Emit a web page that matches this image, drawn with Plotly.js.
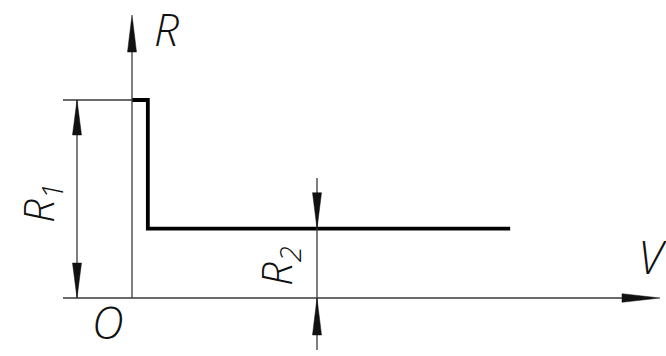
<!DOCTYPE html>
<html>
<head>
<meta charset="utf-8">
<script src="https://cdn.plot.ly/plotly-3.0.1.min.js"></script>
<style>html,body{margin:0;padding:0;background:#fff;}#chart{width:666px;height:356px;}</style>
</head>
<body>
<div id="chart"></div>
<script>
// Data (arbitrary units)
const V = [0, 0.8, 19.1];          // speed breakpoints
const R = [10, 3.5, 3.5];          // resistance values (step)
const R1 = 10;
const R2 = 3.5;
const labels = {yAxis: 'R', xAxis: 'V', origin: 'O', r1: 'R<sub>1</sub>', r2: 'R<sub>2</sub>'};

// Scale: pixels per unit, origin pixel position
const S = 19.8, OX = 132, OY = 298, W = 666, H = 356;
const dx = p => (p - OX) / S;   // pixel x -> data x
const dy = p => (OY - p) / S;   // pixel y -> data y
const xr = [dx(0), dx(W)];
const yr = [dy(H), dy(0)];

const thin = {color: '#3a3a3a', width: 1.3};
function seg(x0, y0, x1, y1) {
  return {type: 'line', xref: 'x', yref: 'y', x0: x0, y0: y0, x1: x1, y1: y1, line: thin, layer: 'above'};
}
// arrowhead: tip in data coords, direction unit vector (data), length/halfwidth in px
function head(tx, ty, ux, uy, lenPx, hwPx) {
  const L = lenPx / S, hw = hwPx / S;
  const bx = tx - ux * L, by = ty - uy * L;
  const nx = -uy, ny = ux;
  const p = `M${tx},${ty} L${bx + nx * hw},${by + ny * hw} L${bx - nx * hw},${by - ny * hw} Z`;
  return {type: 'path', xref: 'x', yref: 'y', path: p, fillcolor: '#111', line: {color: '#111', width: 0.5}, layer: 'above'};
}

const xR2 = dx(317), xR1 = dx(77);
const shapes = [
  // axes
  seg(dx(63), 0, dx(622), 0),
  head(dx(660), 0, 1, 0, 38, 4.3),
  seg(0, 0, 0, dy(50)),
  head(0, dy(15), 0, 1, 37, 4.5),
  // extension line for R1
  seg(dx(63), R1, 0, R1),
  // R1 dimension
  seg(xR1, 0, xR1, R1),
  head(xR1, R1, 0, 1, 35, 4.5),
  head(xR1, 0, 0, -1, 35, 4.5),
  // R2 dimension
  seg(xR2, dy(178), xR2, dy(350)),
  head(xR2, R2, 0, -1, 36, 4.5),
  head(xR2, 0, 0, 1, 37, 4.5)
];

const fam = 'Open Sans, DejaVu Sans Condensed, sans-serif';
function ann(text, x, y, size, angle) {
  return {text: text, x: x, y: y, xref: 'x', yref: 'y', showarrow: false,
    xanchor: 'center', yanchor: 'middle', textangle: angle || 0,
    font: {family: fam, size: size, color: '#111', style: 'italic', weight: 300}};
}
const annotations = [
  ann(labels.yAxis, dx(166), dy(29), 44),
  ann(labels.xAxis, dx(652), dy(256), 46),
  ann(labels.origin, dx(108), dy(322), 44),
  ann(labels.r1, dx(40), dy(203), 42, -90),
  ann(labels.r2, dx(278), dy(266), 42, -90)
];

const trace = {x: V, y: R, type: 'scatter', mode: 'lines', line: {shape: 'hv', color: '#000', width: 3.8}, hoverinfo: 'skip'};

Plotly.newPlot('chart', [trace], {
  width: W, height: H, margin: {l: 0, r: 0, t: 0, b: 0},
  paper_bgcolor: '#fff', plot_bgcolor: '#fff', showlegend: false,
  xaxis: {range: xr, visible: false, fixedrange: true},
  yaxis: {range: yr, visible: false, fixedrange: true},
  shapes: shapes, annotations: annotations
}, {staticPlot: true, displayModeBar: false});
</script>
</body>
</html>
